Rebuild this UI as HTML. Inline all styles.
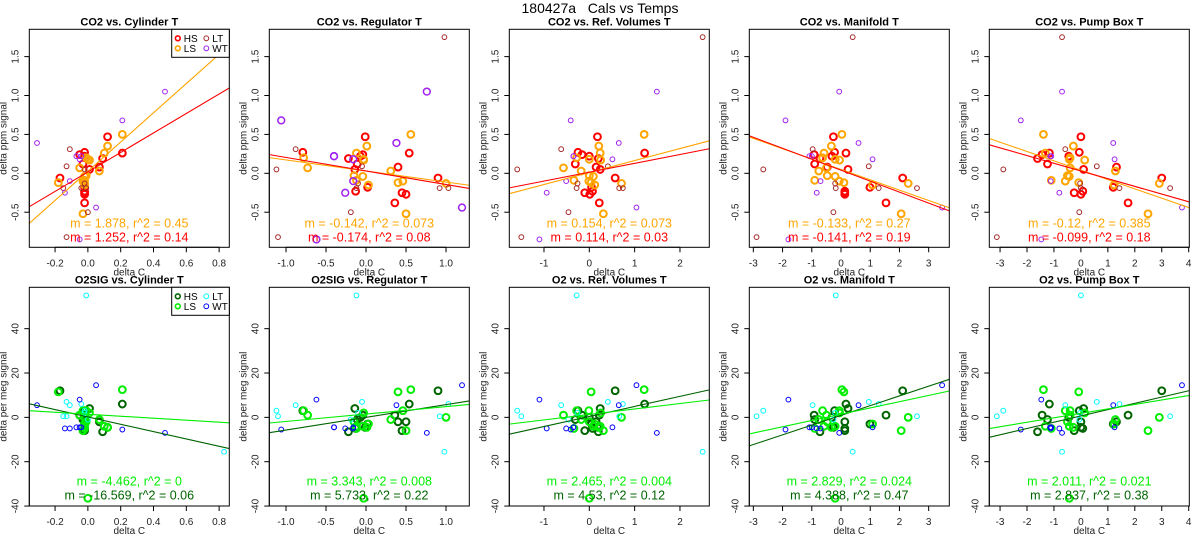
<!DOCTYPE html>
<html><head><meta charset="utf-8">
<style>
html,body{margin:0;padding:0;background:#fff;}
svg{display:block;font-family:"Liberation Sans",Arial,sans-serif;}
</style></head>
<body>
<svg id="chart" width="1200" height="550" viewBox="0 0 1200 550" xmlns="http://www.w3.org/2000/svg">
<text x="600" y="13" text-anchor="middle" font-size="14" fill="#000" style="white-space:pre">180427a   Cals vs Temps</text>
</svg>
<script>
const groups = ['HS','HS','HS','HS','HS','HS','HS','HS','HS','HS','HS','HS','HS','HS','HS',
 'LS','LS','LS','LS','LS','LS','LS','LS','LS','LS','LS','LS','LS','LS','LS','LS',
 'LT','LT','LT','LT','LT','LT','LT','LT','LT','LT',
 'WT','WT','WT','WT','WT','WT','WT','WT','WT','WT'];
const co2 = [0.47,0.27,0.26,0.24,0.22,0.19,0.12,0.08,0.05,-0.06,-0.18,-0.23,-0.25,-0.27,-0.38,
 0.50,0.35,0.26,0.20,0.18,0.17,0.07,0.03,-0.03,-0.04,-0.09,-0.10,-0.12,-0.13,-0.15,-0.52,
 1.75,0.31,0.09,0.05,-0.19,-0.19,-0.19,-0.50,-0.82,-0.13,
 1.05,0.68,0.39,0.22,0.18,-0.10,-0.25,-0.44,-0.85,0.22];
const o2 = [-4.5,3,6,1,0,-6.5,-1,-2,4,12,-3,-5,-6,-2,1,
 12.5,-4.5,-4,3,-36.5,2,1,-1,-2,-4,-5,3,11.5,0,-3,-6,
 -15.5,5.5,7,3,0.5,6,55,-1,0.5,2,
 -7,-5.5,5.5,-4.5,-4.5,-5,-5,14.5,8,-4.5];
const xCyl = [0.12,-0.02,0.21,-0.05,-0.02,0.09,-0.03,0.07,0.01,-0.17,-0.02,-0.02,-0.02,-0.02,-0.02,
 0.21,0.12,0.10,-0.01,0.00,0.01,-0.05,0.07,-0.01,-0.02,-0.02,-0.03,-0.18,-0.02,-0.02,-0.03,
 0.83,-0.11,-0.13,-0.02,-0.15,-0.04,-0.01,0.0,-0.13,-0.02,
 0.47,0.21,-0.31,-0.07,-0.05,-0.11,-0.14,0.05,-0.05,-0.04];
const xReg = [-0.01,-0.79,0.54,-0.04,-0.07,-0.22,-0.11,0.40,-0.14,0.90,0.02,-0.13,0.45,0.50,0.36,
 0.56,0.01,-0.12,-0.78,-0.03,-0.03,-0.73,0.31,-0.15,-0.04,-0.12,0.46,0.40,1.0,0.03,0.50,
 0.98,-0.88,-0.05,-1.12,0.92,1.03,-0.12,-0.19,-1.1,-0.1,
 0.76,-1.06,0.38,-0.4,-0.16,-0.16,-0.26,1.2,-0.62,-0.4];
const xRef = [0.18,-0.25,1.22,-0.16,0.0,0.2,-0.31,0.15,0.24,0.57,0.05,0.07,-0.1,0.01,0.22,
 1.21,0.21,0.24,-0.28,0.0,0.25,-0.57,-0.18,0.0,0.09,-0.34,-0.01,0.04,0.71,0.12,0.31,
 2.5,-0.62,0.41,-1.59,0.66,0.74,-0.28,-0.46,-1.5,-0.26,
 1.49,-0.41,0.65,-0.35,0.51,-0.51,-0.94,1.04,-1.1,-0.35];
const xMan = [-0.26,-0.22,0.17,-0.92,-0.31,-0.72,-0.9,-0.47,0.24,2.11,0.99,0.13,0.13,0.13,1.54,
 0.03,-0.33,-0.58,-0.63,-0.2,-0.05,-0.5,-0.76,-0.47,-0.2,-0.9,-0.06,0.1,2.3,1.08,2.06,
 0.4,-0.97,0.95,-2.66,2.6,1.29,-0.18,-0.26,-2.89,-0.2,
 -0.06,-1.9,0.6,-1.08,1.08,-0.7,-0.83,3.46,-1.8,-1.0];
const xPump = [0.0,-0.06,-1.17,-1.44,-0.45,-1.61,-1.24,1.32,0.1,3.0,1.2,0.07,-0.25,0.0,1.75,
 -1.39,-0.28,-1.32,-0.4,-0.43,0.14,-0.4,1.28,-0.5,-0.43,-1.1,-0.58,-0.08,2.91,1.23,2.49,
 -0.7,-0.58,0.59,-2.88,3.31,1.43,0.0,-0.06,-3.12,-0.03,
 -0.7,-2.23,1.2,-1.14,1.25,-1.12,-0.8,3.75,-1.47,-1.1];
const coSlopeHS = [1.252,-0.174,0.114,-0.141,-0.099];
const coIntHS = [0.018,0.03,0.014,0.04,0.03];
const coSlopeLS = [1.878,-0.142,0.154,-0.133,-0.12];
const coIntLS = [0.027,0.03,0.01,0.05,0.04];
const o2SlopeHS = [-16.569,5.733,4.53,4.388,2.837];
const o2IntHS = [0.2,0,0.4,0.9,0.65];
const o2SlopeLS = [-4.462,3.343,2.465,2.829,2.011];
const o2IntLS = [1.4,1.5,1.3,1.4,1.8];
const coStatsLS = ['m = 1.878, r^2 = 0.45','m = -0.142, r^2 = 0.073','m = 0.154, r^2 = 0.073','m = -0.133, r^2 = 0.27','m = -0.12, r^2 = 0.385'];
const coStatsHS = ['m = 1.252, r^2 = 0.14','m = -0.174, r^2 = 0.08','m = 0.114, r^2 = 0.03','m = -0.141, r^2 = 0.19','m = -0.099, r^2 = 0.18'];
const o2StatsLS = ['m = -4.462, r^2 = 0','m = 3.343, r^2 = 0.008','m = 2.465, r^2 = 0.004','m = 2.829, r^2 = 0.024','m = 2.011, r^2 = 0.021'];
const o2StatsHS = ['m = -16.569, r^2 = 0.06','m = 5.733, r^2 = 0.22','m = 4.53, r^2 = 0.12','m = 4.388, r^2 = 0.47','m = 2.837, r^2 = 0.38'];
const coTitles = ['CO2 vs. Cylinder T','CO2 vs. Regulator T','CO2 vs. Ref. Volumes T','CO2 vs. Manifold T','CO2 vs. Pump Box T'];
const o2Titles = ['O2SIG vs. Cylinder T','O2SIG vs. Regulator T','O2 vs. Ref. Volumes T','O2 vs. Manifold T','O2 vs. Pump Box T'];
const xTicks = [[-0.2,0,0.2,0.4,0.6,0.8],[-1,-0.5,0,0.5,1],[-1,0,1,2],[-3,-2,-1,0,1,2,3],[-3,-2,-1,0,1,2,3,4]];
const xTickLabels = [['-0.2','0.0','0.2','0.4','0.6','0.8'],['-1.0','-0.5','0.0','0.5','1.0'],['-1','0','1','2'],['-3','-2','-1','0','1','2','3'],['-3','-2','-1','0','1','2','3','4']];
const coYTicks = [-0.5,0,0.5,1,1.5];
const coYTickLabels = ['-0.5','0.0','0.5','1.0','1.5'];
const o2YTicks = [-40,-20,0,20,40];
const o2YTickLabels = ['-40','-20','0','20','40'];
const xDomains = [[-0.357,0.862],[-1.209,1.291],[-1.765,2.647],[-3.138,3.706],[-3.399,4.022]];
const coYDomain = [-0.951,1.851];
const o2YDomain = [-39.98,58.66];
const xCols = [xCyl,xReg,xRef,xMan,xPump];

const NS='http://www.w3.org/2000/svg';
const svg=document.getElementById('chart');
function mk(tag,attrs,parent){const e=document.createElementNS(NS,tag);for(const k in attrs)e.setAttribute(k,attrs[k]);(parent||svg).appendChild(e);return e;}

const coColors={HS:'#ff0000',LS:'#ffa500',LT:'#a52a2a',WT:'#a020f0'};
const o2Colors={HS:'#006400',LS:'#00ee00',LT:'#00ffff',WT:'#0000ff'};

function panel(col,row){
  const L=29.3+240*col, R=L+200;
  const T=row===0?29.3:287.3, B=row===0?247.3:506;
  const xd=xDomains[col];
  const yd=row===0?coYDomain:o2YDomain;
  const sx=v=>L+(v-xd[0])/(xd[1]-xd[0])*(R-L);
  const sy=v=>B-(v-yd[0])/(yd[1]-yd[0])*(B-T);
  const colors=row===0?coColors:o2Colors;
  const yVals=row===0?co2:o2;
  const xs=xCols[col];
  const g=mk('g',{});
  
  
  const cid='clip'+row+'_'+col;
  const cp=mk('clipPath',{id:cid},g);
  mk('rect',{x:L,y:T,width:R-L,height:B-T},cp);
  const t=mk('text',{x:(L+R)/2,y:T-4,'text-anchor':'middle','font-size':'11','font-weight':'bold',fill:'#000'},g);
  t.textContent=row===0?coTitles[col]:o2Titles[col];
  
  
  const pg=mk('g',{'clip-path':'url(#'+cid+')'},g);
  for(let i=0;i<groups.length;i++){
    const gr=groups[i];
    const big=(gr==='HS'||gr==='LS');
    const wtBig=(row===0&&col===1&&gr==='WT');
    const c=mk('circle',{cx:sx(xs[i]),cy:sy(yVals[i]),r:big||wtBig?3.4:2.4,fill:'none',stroke:colors[gr],'stroke-width':big?2:(wtBig?1.5:1)},pg);
    
    
  }
  const lines=row===0?[[coSlopeHS,coIntHS,'HS'],[coSlopeLS,coIntLS,'LS']]:[[o2SlopeHS,o2IntHS,'HS'],[o2SlopeLS,o2IntLS,'LS']];
  const order=row===0?[1,0]:[0,1];
  for(const k of order){
    const [s,b,gr]=lines[k];
    const ln=mk('line',{x1:sx(xd[0]),y1:sy(b[col]+s[col]*xd[0]),x2:sx(xd[1]),y2:sy(b[col]+s[col]*xd[1]),stroke:colors[gr],'stroke-width':1.1},pg);
    
    
  }
  const st1=row===0?coStatsLS[col]:o2StatsLS[col];
  const st2=row===0?coStatsHS[col]:o2StatsHS[col];
  const ty1=row===0?227.5:485.5, ty2=row===0?241.5:499.5;
  const a=mk('text',{x:(L+R)/2,y:ty1,'text-anchor':'middle','font-size':'12.5',fill:colors.LS},g);
  a.textContent=st1;
  
  
  const b2=mk('text',{x:(L+R)/2,y:ty2,'text-anchor':'middle','font-size':'12.5',fill:colors.HS},g);
  b2.textContent=st2;
  
  
  const box=mk('rect',{x:L,y:T,width:R-L,height:B-T,fill:'none',stroke:'#000','stroke-width':1},g);
  
  
  const xt=xTicks[col], xl=xTickLabels[col];
  const xa=mk('g',{},g);
  
  
  mk('line',{x1:sx(xt[0]),y1:B,x2:sx(xt[xt.length-1]),y2:B,stroke:'#000'},xa);
  for(let i=0;i<xt.length;i++){
    mk('line',{x1:sx(xt[i]),y1:B,x2:sx(xt[i]),y2:B+5,stroke:'#000'},xa);
    const tl=mk('text',{x:sx(xt[i]),y:B+19,'text-anchor':'middle','font-size':'10',fill:'#222'},xa);
    tl.textContent=xl[i];
  }
  const xlab=mk('text',{x:(L+R)/2,y:B+28,'text-anchor':'middle','font-size':'10',fill:'#222'},g);
  xlab.textContent='delta C';
  
  
  const yt=row===0?coYTicks:o2YTicks, yl=row===0?coYTickLabels:o2YTickLabels;
  const ya=mk('g',{},g);
  
  
  mk('line',{x1:L,y1:sy(yt[0]),x2:L,y2:sy(yt[yt.length-1]),stroke:'#000'},ya);
  for(let i=0;i<yt.length;i++){
    mk('line',{x1:L,y1:sy(yt[i]),x2:L-5,y2:sy(yt[i]),stroke:'#000'},ya);
    const yy=sy(yt[i]);
    const tl=mk('text',{x:L-11,y:yy,'text-anchor':'middle','font-size':'10',fill:'#222',transform:'rotate(-90 '+(L-11)+' '+yy+')'},ya);
    tl.textContent=yl[i];
  }
  const ylx=L-23, yly=(T+B)/2;
  const ylab=mk('text',{x:ylx,y:yly,'text-anchor':'middle','font-size':'10',fill:'#222',transform:'rotate(-90 '+ylx+' '+yly+')'},g);
  ylab.textContent=row===0?'delta ppm signal':'delta per meg signal';
  
  
  if(col===0){
    const lg=mk('g',{},g);
    
    
    mk('rect',{x:L+142.4,y:T,width:57.6,height:28,fill:'#fff',stroke:'#000'},lg);
    const ent=[['HS',L+148.5,T+9],['LT',L+177,T+9],['LS',L+148.5,T+19],['WT',L+177,T+19]];
    for(const [gr,ex,ey] of ent){
      const big=(gr==='HS'||gr==='LS');
      const c=mk('circle',{cx:ex,cy:ey,r:2.4,fill:'none',stroke:colors[gr],'stroke-width':big?1.6:1},lg);
      
      
      const tx=mk('text',{x:ex+6,y:ey+3.5,'font-size':'10',fill:'#000'},lg);
      tx.textContent=gr;
      
      
    }
  }
}
for(let r=0;r<2;r++)for(let c=0;c<5;c++)panel(c,r);
</script>
</body></html>
